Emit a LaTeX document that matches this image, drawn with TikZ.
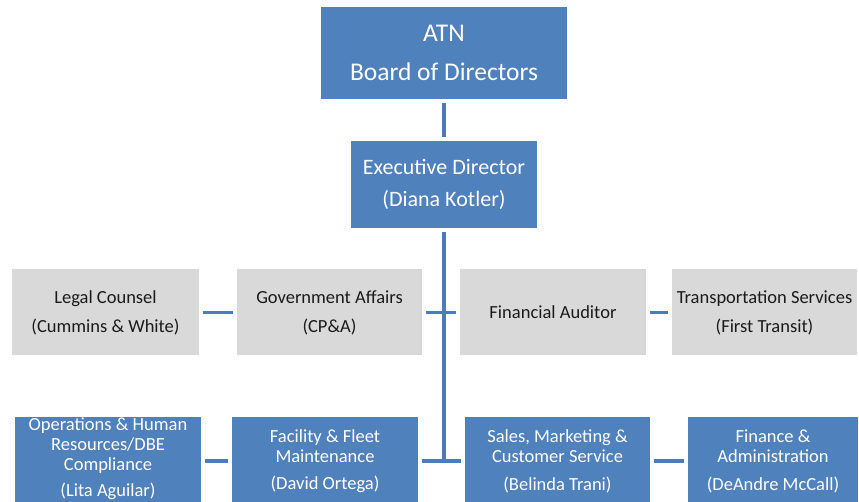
\documentclass[tikz,border=0pt]{standalone}
\usepackage{fontspec}
\setmainfont{Carlito}
\definecolor{boxblue}{HTML}{4F81BD}
\definecolor{boxgray}{HTML}{D9D9D9}
\definecolor{lineblue}{HTML}{4A7DBA}
\definecolor{graytext}{HTML}{1A1A1A}
\begin{document}
\begin{tikzpicture}[x=1pt,y=-1pt,
  bluebox/.style={fill=boxblue, text=white, inner sep=0pt, align=center},
  graybox/.style={fill=boxgray, text=graytext, inner sep=0pt, align=center,
    minimum height=86pt, font=\fontsize{18.5}{29}\selectfont},
  lowbox/.style={bluebox, minimum height=88pt, font=\fontsize{18.5}{20}\selectfont},
  lowtext/.style={text=white, inner sep=0pt, align=center, font=\fontsize{18.5}{20}\selectfont},
  conn/.style={draw=lineblue, line width=3.5pt, shorten >=3.5pt, shorten <=3.5pt}]
\useasboundingbox (0,0) rectangle (859,502);
\clip (0,0) rectangle (859,502);
\fill[white] (0,0) rectangle (859,502);

% top
\node[bluebox, minimum width=246pt, minimum height=92pt,
  font=\fontsize{25.5}{38.5}\selectfont] (board) at (444,53) {ATN\\Board of Directors};
\node[bluebox, minimum width=186pt, minimum height=87pt,
  font=\fontsize{22}{32}\selectfont] (exec) at (444,184.5) {Executive Director\\(Diana Kotler)};

% middle row
\node[graybox, minimum width=187pt] (legal) at (105.5,312.5) {Legal Counsel\\(Cummins \& White)};
\node[graybox, minimum width=185pt] (gov) at (329.5,312.5) {Government Affairs\\(CP\&A)};
\node[graybox, minimum width=186pt] (audit) at (553,312.5) {Financial Auditor};
\node[graybox, minimum width=185pt] (trans) at (764.5,312.5) {Transportation Services\\(First Transit)};

% bottom row
\node[lowbox, minimum width=186pt] (ops) at (108,461) {};
\node[lowtext] (opstext) at (108,459) {Operations \& Human\\Resources/DBE\\Compliance\\[6pt](Lita Aguilar)};
\node[lowbox, minimum width=186pt] (fac) at (325,461) {Facility \& Fleet\\Maintenance\\[7pt](David Ortega)};
\node[lowbox, minimum width=185pt] (sales) at (557.5,461) {Sales, Marketing \&\\Customer Service\\[8pt](Belinda Trani)};
\node[lowbox, minimum width=170pt] (fin) at (773,461) {Finance \&\\Administration\\[8pt](DeAndre McCall)};

% connectors
\coordinate (junc) at (exec.south |- fac.east);
\draw[conn] (board.south) -- (exec.north);
\draw[conn, shorten >=0pt] (exec.south) -- (junc);
\draw[conn] (legal.east) -- (gov.west);
\draw[conn] (gov.east) -- (audit.west);
\draw[conn] (audit.east) -- (trans.west);
\draw[conn] (ops.east) -- (fac.west);
\draw[conn] (fac.east) -- (sales.west);
\draw[conn] (sales.east) -- (fin.west);
\end{tikzpicture}
\end{document}
